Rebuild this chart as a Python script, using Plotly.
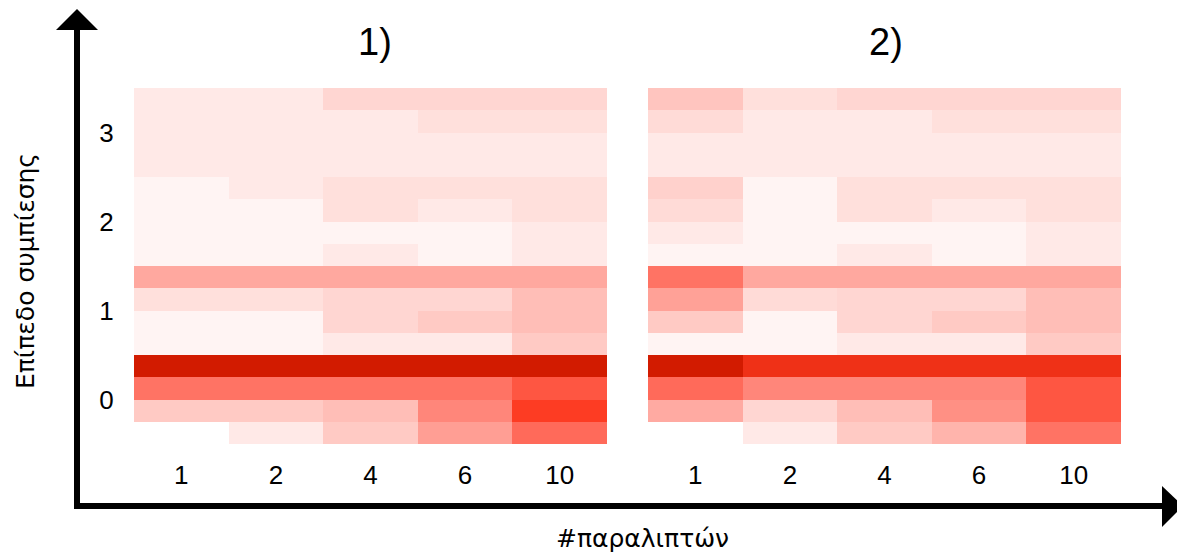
import plotly.graph_objects as go

# the page shows the figure offset by the default 8px body margin
OFF = 8
W, H = 1185 - OFF, 556 - OFF

receivers = ["1", "2", "4", "6", "10"]
levels = ["0", "1", "2", "3"]

# values per panel, rows listed top to bottom within each compression level
p1_level3 = [[0.09, 0.09, 0.17, 0.17, 0.17],
             [0.09, 0.09, 0.09, 0.13, 0.13],
             [0.09, 0.09, 0.09, 0.09, 0.09],
             [0.09, 0.09, 0.09, 0.09, 0.09]]
p1_level2 = [[0.045, 0.09, 0.13, 0.13, 0.13],
             [0.045, 0.045, 0.13, 0.09, 0.13],
             [0.045, 0.045, 0.045, 0.045, 0.09],
             [0.045, 0.045, 0.09, 0.045, 0.09]]
p1_level1 = [[0.36, 0.36, 0.36, 0.36, 0.36],
             [0.13, 0.13, 0.17, 0.17, 0.27],
             [0.045, 0.045, 0.17, 0.22, 0.27],
             [0.045, 0.045, 0.09, 0.09, 0.22]]
p1_level0 = [[1.0, 1.0, 1.0, 1.0, 1.0],
             [0.58, 0.58, 0.58, 0.58, 0.72],
             [0.22, 0.22, 0.27, 0.50, 0.85],
             [0.0, 0.09, 0.22, 0.40, 0.62]]

p2_level3 = [[0.24, 0.13, 0.17, 0.17, 0.17],
             [0.15, 0.09, 0.09, 0.13, 0.13],
             [0.09, 0.09, 0.09, 0.09, 0.09],
             [0.09, 0.09, 0.09, 0.09, 0.09]]
p2_level2 = [[0.19, 0.045, 0.13, 0.13, 0.13],
             [0.15, 0.045, 0.13, 0.09, 0.13],
             [0.09, 0.045, 0.045, 0.045, 0.09],
             [0.045, 0.045, 0.09, 0.045, 0.09]]
p2_level1 = [[0.58, 0.36, 0.36, 0.36, 0.36],
             [0.39, 0.15, 0.17, 0.17, 0.27],
             [0.22, 0.045, 0.17, 0.22, 0.27],
             [0.045, 0.045, 0.09, 0.09, 0.22]]
p2_level0 = [[1.0, 0.90, 0.90, 0.90, 0.90],
             [0.62, 0.50, 0.50, 0.50, 0.72],
             [0.35, 0.17, 0.27, 0.46, 0.72],
             [0.0, 0.09, 0.22, 0.31, 0.58]]

panel_titles = ["1)", "2)"]
x_title = "#παραλιπτών"
y_title = "Επίπεδο συμπίεσης"


def build_z(l0, l1, l2, l3):
    rows_top_down = l3 + l2 + l1 + l0
    return rows_top_down[::-1]  # bottom row first


z1 = build_z(p1_level0, p1_level1, p1_level2, p1_level3)
z2 = build_z(p2_level0, p2_level1, p2_level2, p2_level3)
ys = list(range(len(z1)))
xs = list(range(len(receivers)))

colorscale = [[0.0, "#ffffff"], [0.6, "rgb(255,110,95)"],
              [0.85, "rgb(253,60,35)"], [1.0, "rgb(210,27,0)"]]

fig = go.Figure()
fig.add_trace(go.Heatmap(z=z1, x=xs, y=ys, colorscale=colorscale, zmin=0, zmax=1,
                         showscale=False, xaxis="x", yaxis="y"))
fig.add_trace(go.Heatmap(z=z2, x=xs, y=ys, colorscale=colorscale, zmin=0, zmax=1,
                         showscale=False, xaxis="x2", yaxis="y2"))


def px(x):
    return (x - OFF) / W


def py(y):
    return 1 - (y - OFF) / H


tick_font = dict(family="Liberation Sans, Arial, sans-serif", size=26, color="black")
level_tickvals = [1.5, 5.5, 9.5, 13.5]

xaxis_common = dict(tickvals=xs, ticktext=receivers, showgrid=False, zeroline=False,
                    showline=False, ticks="outside", ticklen=8,
                    tickcolor="rgba(0,0,0,0)", tickfont=tick_font,
                    range=[-0.5, len(receivers) - 0.5], fixedrange=True)
fig.update_layout(
    width=W, height=H,
    margin=dict(l=0, r=0, t=0, b=0),
    paper_bgcolor="white", plot_bgcolor="white",
    xaxis=dict(domain=[px(134), px(607)], anchor="y", **xaxis_common),
    xaxis2=dict(domain=[px(648), px(1121)], anchor="y2", **xaxis_common),
    yaxis=dict(domain=[py(444), py(88)], anchor="x", tickvals=level_tickvals,
               ticktext=levels, showgrid=False, zeroline=False, showline=False,
               ticks="outside", ticklen=14, tickcolor="rgba(0,0,0,0)",
               tickfont=tick_font, range=[-0.5, 15.5]),
    yaxis2=dict(domain=[py(444), py(88)], anchor="x2", showticklabels=False,
                showgrid=False, zeroline=False, showline=False, range=[-0.5, 15.5]),
    showlegend=False,
)

# axis arrows
lw = 6
fig.add_shape(type="line", xref="paper", yref="paper",
              x0=px(77), y0=py(509), x1=px(77), y1=py(25),
              line=dict(color="black", width=lw))
fig.add_shape(type="line", xref="paper", yref="paper",
              x0=px(74), y0=py(506), x1=px(1166), y1=py(506),
              line=dict(color="black", width=lw))
fig.add_shape(type="path", xref="paper", yref="paper",
              path=f"M {px(77)} {py(9)} L {px(56)} {py(30)} L {px(98)} {py(30)} Z",
              fillcolor="black", line=dict(color="black", width=0))
fig.add_shape(type="path", xref="paper", yref="paper",
              path=f"M {px(1183)} {py(506)} L {px(1162)} {py(486)} L {px(1162)} {py(527)} Z",
              fillcolor="black", line=dict(color="black", width=0))

title_font = dict(family="Liberation Sans, Arial, sans-serif", size=38, color="black")
fig.add_annotation(text=panel_titles[0], xref="paper", yref="paper", x=px(375), y=py(42),
                   showarrow=False, font=title_font, xanchor="center", yanchor="middle")
fig.add_annotation(text=panel_titles[1], xref="paper", yref="paper", x=px(886), y=py(42),
                   showarrow=False, font=title_font, xanchor="center", yanchor="middle")

label_font = dict(family="DejaVu Sans, sans-serif", size=25, color="black")
fig.add_annotation(text=x_title, xref="paper", yref="paper", x=px(642), y=py(538),
                   showarrow=False, font=label_font, xanchor="center", yanchor="middle")
fig.add_annotation(text=y_title, xref="paper", yref="paper", x=px(25), y=py(271),
                   showarrow=False, font=label_font, textangle=-90,
                   xanchor="center", yanchor="middle")

fig.write_html("out.html")
